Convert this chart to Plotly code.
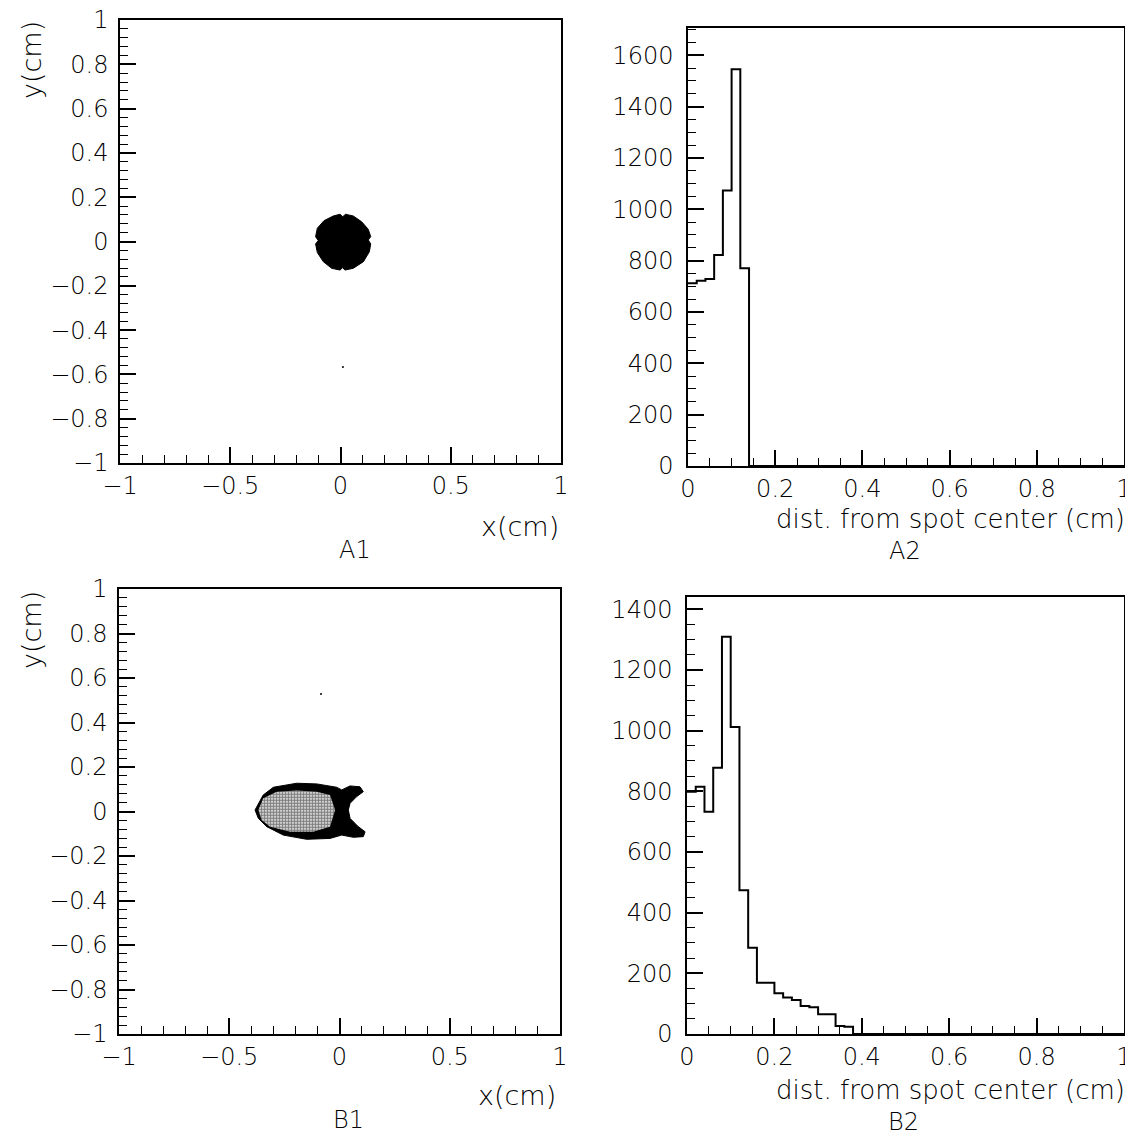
import plotly.graph_objects as go

# ---------------- data ----------------
# A2 : distance histogram (50 bins of 0.02 cm on 0..1)
bin_width = 0.02
a2_counts = [712, 722, 728, 822, 1073, 1545, 770] + [0] * 43
# B2 : distance histogram (50 bins of 0.02 cm on 0..1)
b2_counts = [798, 815, 732, 877, 1309, 1012, 474, 284, 169, 169,
             134, 120, 112, 92, 88, 65, 65, 26, 24] + [0] * 31

# A1 : outline of the (dense, black) spot, x / y in cm
a1_spot_x = [-0.033, -0.002, 0.010, 0.023, 0.058, 0.096, 0.126, 0.137, 0.126, 0.137,
             0.131, 0.104, 0.058, 0.020, 0.010, -0.002, -0.040, -0.078, -0.105, -0.113,
             -0.101, -0.113, -0.105, -0.075]
a1_spot_y = [0.115, 0.123, 0.112, 0.123, 0.115, 0.089, 0.055, 0.022, 0.007, -0.011,
             -0.046, -0.091, -0.121, -0.129, -0.118, -0.129, -0.121, -0.091, -0.050, -0.011,
             0.004, 0.022, 0.060, 0.094]
a1_stray_x = [0.011]
a1_stray_y = [-0.567]

# B1 : outline of the fish-tail shaped spot, x / y in cm
b1_spot_x = [-0.383, -0.346, -0.300, -0.194, -0.103, -0.013, 0.010, 0.048, 0.093, 0.108,
             0.078, 0.048, 0.040, 0.048, 0.085, 0.116, 0.108, 0.063, 0.010, -0.043,
             -0.149, -0.255, -0.330, -0.368]
b1_spot_y = [0.007, 0.074, 0.109, 0.127, 0.124, 0.109, 0.097, 0.115, 0.111, 0.089,
             0.067, 0.037, 0.007, -0.031, -0.068, -0.091, -0.113, -0.116, -0.106, -0.121,
             -0.125, -0.106, -0.068, -0.031]
# B1 : lighter (speckled) inner region of the spot
b1_core_x = [-0.368, -0.346, -0.285, -0.194, -0.103, -0.043, -0.020, -0.043, -0.119, -0.224,
             -0.315, -0.353]
b1_core_y = [0.007, 0.059, 0.089, 0.094, 0.089, 0.074, 0.007, -0.068, -0.091, -0.091,
             -0.068, -0.038]
b1_stray_x = [-0.084]
b1_stray_y = [0.528]

# ---------------- figure ----------------
# the page body adds an 8 px margin: the figure is made 8 px smaller
OFF = 8
W, H = 1133 - OFF, 1136 - OFF
FONT = "DejaVu Sans ExtraLight, DejaVu Sans Light, DejaVu Sans"


def px(x):
    return (x - OFF) / W


def py(y):
    return 1 - (y - OFF) / H


fig = go.Figure()

# histograms drawn as step lines
edges = [i * bin_width for i in range(len(a2_counts) + 1)]
fig.add_trace(go.Scatter(x=edges, y=a2_counts + [a2_counts[-1]], mode="lines",
                         line=dict(color="black", width=2, shape="hv"),
                         xaxis="x2", yaxis="y2", hoverinfo="skip"))
edges_b = [i * bin_width for i in range(len(b2_counts) + 1)]
fig.add_trace(go.Scatter(x=edges_b, y=b2_counts + [b2_counts[-1]], mode="lines",
                         line=dict(color="black", width=2, shape="hv"),
                         xaxis="x4", yaxis="y4", hoverinfo="skip"))

# A1 spot
fig.add_trace(go.Scatter(x=a1_spot_x + [a1_spot_x[0]], y=a1_spot_y + [a1_spot_y[0]],
                         mode="lines", fill="toself", fillcolor="black",
                         line=dict(color="black", width=1), xaxis="x", yaxis="y"))
fig.add_trace(go.Scatter(x=a1_stray_x, y=a1_stray_y, mode="markers",
                         marker=dict(color="black", size=2), xaxis="x", yaxis="y"))

# B1 spot
fig.add_trace(go.Scatter(x=b1_spot_x + [b1_spot_x[0]], y=b1_spot_y + [b1_spot_y[0]],
                         mode="lines", fill="toself", fillcolor="black",
                         line=dict(color="black", width=1), xaxis="x3", yaxis="y3"))
fig.add_trace(go.Scatter(x=b1_core_x + [b1_core_x[0]], y=b1_core_y + [b1_core_y[0]],
                         mode="lines", fill="toself",
                         fillpattern=dict(shape=".", fgcolor="black", bgcolor="white",
                                          size=3, solidity=0.7),
                         line=dict(color="rgba(0,0,0,0)", width=0), xaxis="x3", yaxis="y3"))
fig.add_trace(go.Scatter(x=b1_stray_x, y=b1_stray_y, mode="markers",
                         marker=dict(color="black", size=2), xaxis="x3", yaxis="y3"))


def axis(domain, rng, dtick, minor_dtick, anchor, standoff):
    return dict(domain=domain, range=rng, anchor=anchor, dtick=dtick, tick0=0,
                showgrid=False, zeroline=False, showline=True, linecolor="black",
                linewidth=1.5, mirror=True, ticks="inside", ticklen=16,
                tickwidth=1.5, tickcolor="black", automargin=False,
                ticklabelstandoff=standoff, ticklabeloverflow="allow",
                minor=dict(ticks="inside", ticklen=8, dtick=minor_dtick, tick0=0,
                           tickcolor="black", tickwidth=1, showgrid=False),
                tickfont=dict(family=FONT, size=24, color="black"),
                fixedrange=True)


fig.update_layout(
    width=W, height=H, margin=dict(l=0, r=0, t=0, b=0, pad=0, autoexpand=False),
    paper_bgcolor="white", plot_bgcolor="white", showlegend=False,
    xaxis=axis([px(120), px(561)], [-1, 1], 0.5, 0.1, "y", 0),
    yaxis=axis([py(463), py(20)], [-1, 1], 0.2, 0.04, "x", 5),
    xaxis2=axis([px(688), px(1124)], [0, 1], 0.2, 0.05, "y2", 0),
    yaxis2=axis([py(466), py(28)], [0, 1706], 200, 50, "x2", 8),
    xaxis3=axis([px(119), px(560)], [-1, 1], 0.5, 0.1, "y3", 0),
    yaxis3=axis([py(1034), py(589)], [-1, 1], 0.2, 0.04, "x3", 5),
    xaxis4=axis([px(687), px(1124)], [0, 1], 0.2, 0.05, "y4", 0),
    yaxis4=axis([py(1034), py(597)], [0, 1440], 200, 50, "x4", 8),
)

ann = []


def text(t, x, y, size=27, xanchor="center", angle=0):
    ann.append(dict(text=t, x=px(x), y=py(y), xref="paper", yref="paper",
                    showarrow=False, xanchor=xanchor, yanchor="middle",
                    textangle=angle, font=dict(family=FONT, size=size, color="black")))


text("y(cm)", 31, 60, angle=-90)
text("x(cm)", 561, 526, xanchor="right")
text("A1", 355, 550, size=24)
text("dist. from spot center (cm)", 1127, 519, size=26, xanchor="right")
text("A2", 905, 551, size=24)
text("y(cm)", 31, 630, angle=-90)
text("x(cm)", 558, 1095, xanchor="right")
text("B1", 348, 1120, size=24)
text("dist. from spot center (cm)", 1127, 1090, size=26, xanchor="right")
text("B2", 903, 1122, size=24)
fig.update_layout(annotations=ann)

fig.write_html("out.html")
